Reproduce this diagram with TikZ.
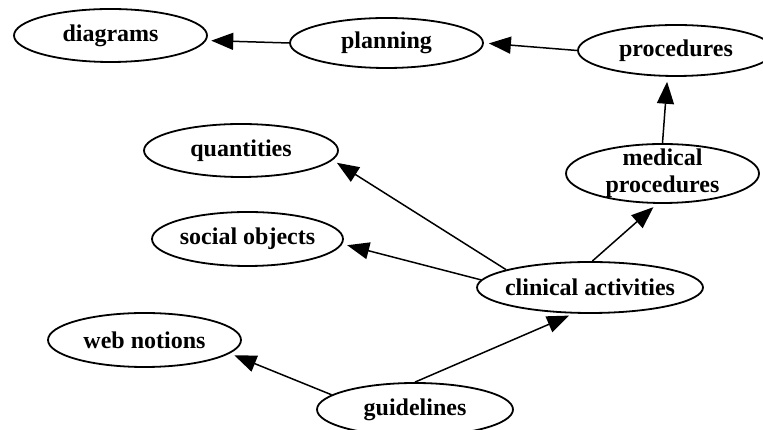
\documentclass[tikz,border=0pt]{standalone}
\usepackage{fontspec}
\setmainfont{Liberation Serif}
\usepackage{tikz}
\usetikzlibrary{shapes, arrows.meta, positioning}
\tikzset{
  concept/.style={draw, ellipse, line width=1.8pt, minimum width=193pt, minimum height=53pt, inner sep=0pt, align=center, font=\fontsize{24}{27}\selectfont\bfseries},
  link/.style={line width=1.5pt, -{Triangle[length=22pt, width=17pt]}, shorten >=5pt}
}

\begin{document}
\begin{tikzpicture}[x=1pt, y=1pt]
  \useasboundingbox (0,0) rectangle (763,430);

  \node[concept] (diagrams) at (110.5,394.5) {diagrams};
  \node[concept, minimum height=50pt] (planning) at (386.5,387) {planning};
  \node[concept, minimum width=196pt, minimum height=51pt] (procedures) at (676,379.5) {procedures};
  \node[concept, minimum height=59pt, inner ysep=-3.8pt] (medproc) at (662.5,256.5) {medical\\procedures};
  \node[concept, minimum width=194pt] (quantities) at (241,279.5) {quantities};
  \node[concept, minimum width=191pt, minimum height=54pt, inner xsep=-1.5pt] (social) at (247.5,191) {social objects};
  \node[concept, minimum height=54pt] (web) at (144.5,90) {web notions};
  \node[concept, minimum width=196pt] (guidelines) at (415,20.5) {guidelines};
  \node[concept, minimum width=226pt, minimum height=51pt, inner xsep=-5.5pt] (clinical) at (590,142.5) {clinical activities};

  \draw[link] (planning.west) -- (diagrams.-3);
  \draw[link] (procedures.west) -- (planning.east);
  \draw[link] (medproc.north) -- (procedures.-108);
  \draw[link] (clinical.85) -- (medproc.-100);
  \draw[link] (clinical.168) -- (quantities.-6);
  \draw[link] (clinical.176) -- (social.-3);
  \draw[link] (guidelines.170) -- (web.-9);
  \draw[link] (guidelines.north) -- (clinical.-122);
\end{tikzpicture}
\end{document}
